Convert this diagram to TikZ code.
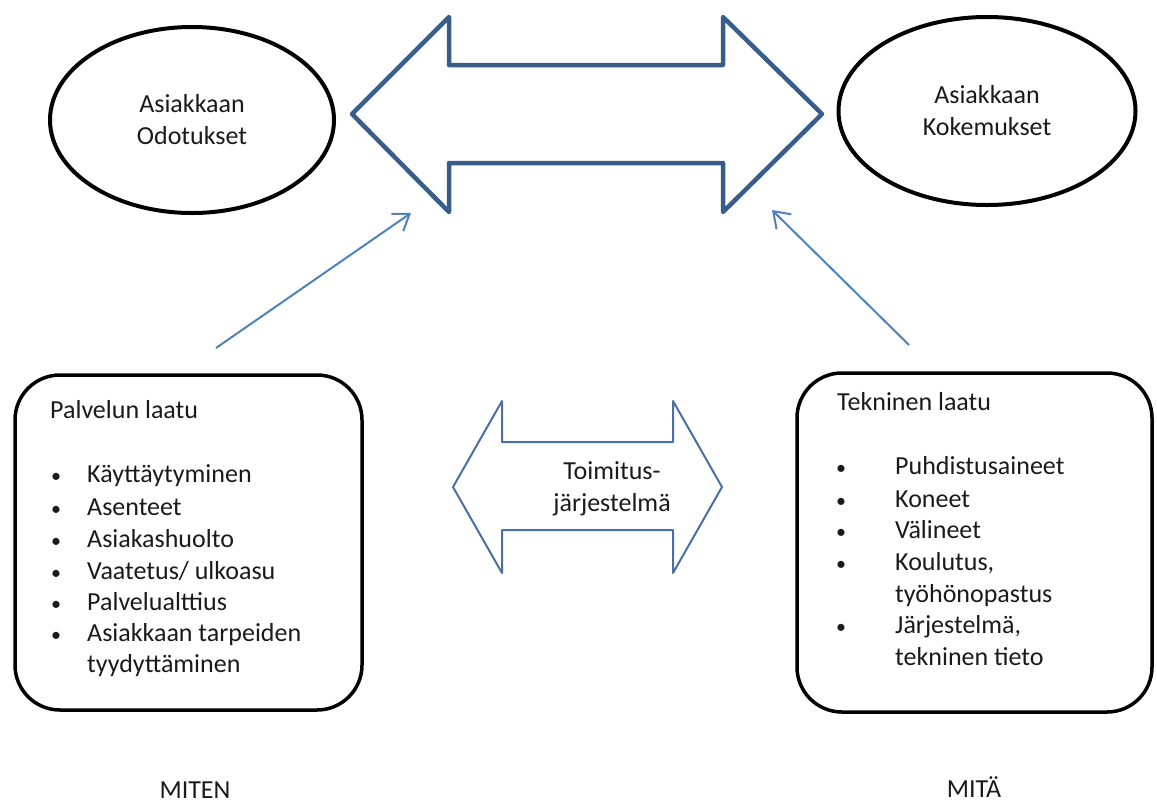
\documentclass[tikz,border=0pt]{standalone}
\usepackage{fontspec}
\setmainfont{Carlito}
\usetikzlibrary{shapes.geometric,arrows.meta}
\definecolor{bigblue}{HTML}{385D8A}
\definecolor{smallblue}{HTML}{4A6FA5}
\definecolor{thinblue}{HTML}{4F81BD}
\definecolor{ink}{HTML}{1A1A1A}
\tikzset{
  txt/.style={font=\fontsize{26}{32}\selectfont, text=ink, inner sep=0pt},
  oval/.style={ellipse, draw=black, line width=4pt, txt, align=center},
  qbox/.style={draw=black, line width=3.5pt, rounded corners=45pt, inner sep=0pt},
  bigarr/.style={draw=bigblue, line width=4.5pt, line join=round},
  smallarr/.style={draw=smallblue, line width=2pt, line join=round},
  thinarr/.style={draw=thinblue, line width=2pt, -{Straight Barb[length=15pt,width=21pt]}},
  item/.style={txt, anchor=base west},
  bul/.style={txt, anchor=base, font=\fontsize{20}{32}\selectfont},
}
\begin{document}
\begin{tikzpicture}[x=1pt,y=-1pt]
\useasboundingbox (0,0) rectangle (1157,804);

% ellipses
\node[oval, minimum width=284pt, minimum height=186pt] (odot) at (192,120) {Asiakkaan\\Odotukset};
\node[oval, minimum width=297pt, minimum height=188pt] (koke) at (987,111) {Asiakkaan\\Kokemukset};

% big double arrow
\draw[bigarr] (352,114) -- (449,17) -- (449,65) -- (723,65) -- (723,17) -- (822,114)
  -- (723,212) -- (723,163) -- (449,163) -- (449,212) -- cycle;
\coordinate (bigL) at (411,213);
\coordinate (bigR) at (772,210);

% small double arrow
\draw[smallarr] (453,487) -- (502,401) -- (502,442) -- (673,442) -- (673,401) -- (722,487)
  -- (673,573) -- (673,530) -- (502,530) -- (502,573) -- cycle;
\node[txt, align=center] (toim) at (612,489) {Toimitus-\\järjestelmä};

% boxes
\node[qbox, minimum width=347pt, minimum height=335pt] (pal) at (188.5,542.5) {};
\node[qbox, minimum width=355pt, minimum height=339pt] (tek) at (974.5,542.5) {};

% thin arrows
\coordinate (palS) at (216,348);
\coordinate (tekS) at (909,345);
\draw[thinarr] (palS) -- (bigL);
\draw[thinarr] (tekS) -- (bigR);

% left box text
\node[item] (palh) at (50,418) {Palvelun laatu};
\foreach \y/\t [count=\i] in {482/Käyttäytyminen, 515/Asenteet, 547/Asiakashuolto, 579/{Vaatetus/ ulkoasu}, 610/Palvelualttius, 641/Asiakkaan tarpeiden}{
  \node[bul] (pb\i) at (56,\y) {•};
  \node[item] (pt\i) at (87,\y) {\t};
}
\node[item] (pt7) at (87,672) {tyydyttäminen};

% right box text
\node[item] (tekh) at (837,410) {Tekninen laatu};
\foreach \y/\t [count=\i] in {474/Puhdistusaineet, 507/Koneet, 538/Välineet, 570/{Koulutus,}, 633/{Järjestelmä,}}{
  \node[bul] (tb\i) at (841,\y) {•};
  \node[item] (tt\i) at (895,\y) {\t};
}
\node[item] (tt6) at (895,602) {työhönopastus};
\node[item] (tt7) at (895,665) {tekninen tieto};

% bottom labels
\node[txt, anchor=base] (miten) at (195,798) {MITEN};
\node[txt, anchor=base] (mita) at (974,797) {MITÄ};
\end{tikzpicture}
\end{document}
